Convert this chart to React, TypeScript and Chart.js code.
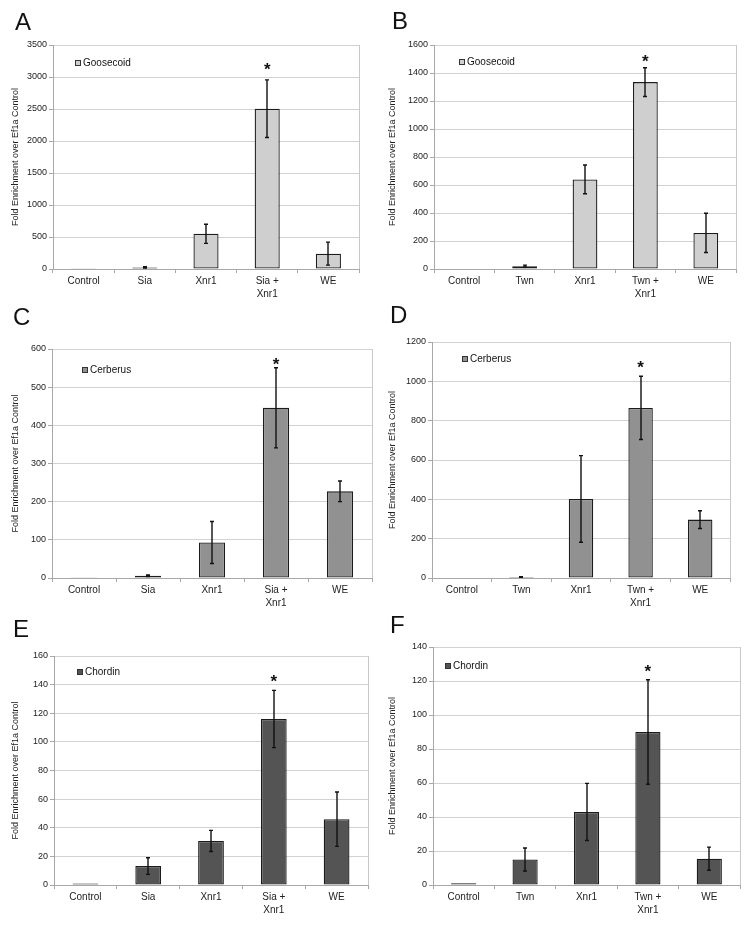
import React, { useEffect, useRef } from "react";
import { Chart, registerables } from "chart.js";

Chart.register(...registerables);

const FONT = '"Liberation Sans", Arial, Helvetica, sans-serif';

// ---- categories ----
const siaCategories: string[][] = [["Control"], ["Sia"], ["Xnr1"], ["Sia +", "Xnr1"], ["WE"]];
const twnCategories: string[][] = [["Control"], ["Twn"], ["Xnr1"], ["Twn +", "Xnr1"], ["WE"]];

// ---- series values (mean) and error (±) ----
const goosecoidSiaMeans = [5, 25, 550, 2505, 240];
const goosecoidSiaErrors = [0, 10, 150, 450, 180];
const goosecoidTwnMeans = [3, 20, 640, 1335, 258];
const goosecoidTwnErrors = [0, 8, 103, 103, 140];
const cerberusSiaMeans = [2, 6, 93, 446, 227];
const cerberusSiaErrors = [0, 2, 55, 105, 27];
const cerberusTwnMeans = [2, 5, 402, 865, 297];
const cerberusTwnErrors = [0, 1, 220, 161, 45];
const chordinSiaMeans = [1, 13.2, 30.8, 116, 46];
const chordinSiaErrors = [0, 5.8, 7.4, 20, 19];
const chordinTwnMeans = [1, 15, 43, 90, 15.5];
const chordinTwnErrors = [0, 6.8, 16.8, 30.7, 6.8];

// ---- significance markers (value where the asterisk sits) ----
const starValues = [3187, 1514, 571, 1093, 145, 128];
const starIndex = 3;

// ---- y-axis ranges ----
const yMaxes = [3500, 1600, 600, 1200, 160, 140];
const ySteps = [500, 200, 100, 200, 20, 20];

const panelLetters = ["A", "B", "C", "D", "E", "F"];
const geneNames = ["Goosecoid", "Goosecoid", "Cerberus", "Cerberus", "Chordin", "Chordin"];
const yTitle = "Fold Enrichment over Ef1a Control";

// ---- layout / styles (not data) ----
const barColors = ["#cfcfcf", "#cfcfcf", "#919191", "#919191", "#545454", "#545454"];
const panelBoxes = [
  { left: 0, top: 0, width: 377, height: 300 },
  { left: 377, top: 0, width: 377, height: 300 },
  { left: 0, top: 300, width: 377, height: 310 },
  { left: 377, top: 300, width: 377, height: 310 },
  { left: 0, top: 610, width: 377, height: 324 },
  { left: 377, top: 610, width: 377, height: 324 },
];
const plotAreas = [
  { l: 53, t: 45, r: 359, b: 269 },
  { l: 57, t: 45, r: 359, b: 269 },
  { l: 52, t: 49, r: 372, b: 278 },
  { l: 55, t: 42, r: 353, b: 278 },
  { l: 54, t: 46, r: 368, b: 275 },
  { l: 56, t: 37, r: 363, b: 275 },
];
const letterPos = [
  { x: 15, y: 30 },
  { x: 15, y: 29 },
  { x: 13, y: 25 },
  { x: 13, y: 23 },
  { x: 13, y: 27 },
  { x: 13, y: 23 },
];
const legendPos = [
  { x: 75, y: 63 },
  { x: 82, y: 62 },
  { x: 82, y: 70 },
  { x: 85, y: 59 },
  { x: 77, y: 62 },
  { x: 68, y: 56 },
];

const meansList = [goosecoidSiaMeans, goosecoidTwnMeans, cerberusSiaMeans, cerberusTwnMeans, chordinSiaMeans, chordinTwnMeans];
const errorsList = [goosecoidSiaErrors, goosecoidTwnErrors, cerberusSiaErrors, cerberusTwnErrors, chordinSiaErrors, chordinTwnErrors];
const categoriesList = [siaCategories, twnCategories, siaCategories, twnCategories, siaCategories, twnCategories];

function Panel({ idx }: { idx: number }) {
  const ref = useRef<HTMLCanvasElement>(null);
  useEffect(() => {
    if (!ref.current) return;
    const box = panelBoxes[idx];
    const area = plotAreas[idx];
    const means = meansList[idx];
    const errors = errorsList[idx];
    const color = barColors[idx];

    const extras = {
      id: "extras" + idx,
      afterDatasetsDraw(chart: any) {
        const ctx = chart.ctx;
        const y = chart.scales.y;
        const ca = chart.chartArea;
        const meta = chart.getDatasetMeta(0);
        ctx.save();
        // right frame line
        ctx.strokeStyle = "#c9c9c9";
        ctx.lineWidth = 1;
        ctx.beginPath();
        const rx = Math.round(ca.right) + 0.5;
        ctx.moveTo(rx, ca.top);
        ctx.lineTo(rx, ca.bottom);
        ctx.stroke();
        // error bars
        ctx.strokeStyle = "#111";
        ctx.lineWidth = 1.4;
        means.forEach((m, i) => {
          const e = errors[i];
          if (!e) return;
          const px = Math.round(meta.data[i].x);
          const top = y.getPixelForValue(m + e);
          const bot = y.getPixelForValue(Math.max(m - e, 0));
          ctx.beginPath();
          ctx.moveTo(px, top);
          ctx.lineTo(px, bot);
          ctx.moveTo(px - 2, top);
          ctx.lineTo(px + 2, top);
          ctx.moveTo(px - 2, bot);
          ctx.lineTo(px + 2, bot);
          ctx.stroke();
        });
        // asterisk
        const sx = meta.data[starIndex].x;
        const sy = y.getPixelForValue(starValues[idx]);
        ctx.fillStyle = "#111";
        ctx.font = `bold 17px ${FONT}`;
        ctx.textAlign = "center";
        ctx.textBaseline = "alphabetic";
        ctx.fillText("*", sx, sy + 10);
        ctx.restore();
      },
      afterDraw(chart: any) {
        const ctx = chart.ctx;
        ctx.save();
        // panel letter
        ctx.fillStyle = "#111";
        ctx.font = `24px ${FONT}`;
        ctx.textAlign = "left";
        ctx.textBaseline = "alphabetic";
        const lp = letterPos[idx];
        ctx.fillText(panelLetters[idx], lp.x, lp.y);
        // legend
        const g = legendPos[idx];
        ctx.fillStyle = color;
        ctx.fillRect(g.x, g.y - 3, 6, 6);
        ctx.strokeStyle = "#333";
        ctx.lineWidth = 1;
        ctx.strokeRect(g.x + 0.5, g.y - 2.5, 5, 5);
        ctx.fillStyle = "#111";
        ctx.font = `10px ${FONT}`;
        ctx.textBaseline = "middle";
        ctx.fillText(geneNames[idx], g.x + 8, g.y + 0.5);
        ctx.restore();
      },
    };

    const chart = new Chart(ref.current, {
      type: "bar",
      data: {
        labels: categoriesList[idx],
        datasets: [
          {
            label: geneNames[idx],
            data: means,
            backgroundColor: color,
            borderColor: "#1c1c1c",
            borderWidth: 1.3,
            borderSkipped: false,
            barPercentage: 0.41,
            categoryPercentage: 1,
          },
        ],
      },
      options: {
        responsive: false,
        animation: false,
        devicePixelRatio: 1,
        layout: {
          padding: { left: 0, top: area.t, right: box.width - area.r, bottom: 0 },
        },
        plugins: {
          legend: { display: false },
          tooltip: { enabled: false },
        },
        scales: {
          x: {
            afterFit: (s: any) => {
              s.height = box.height - area.b;
            },
            grid: {
              display: true,
              drawOnChartArea: false,
              drawTicks: true,
              tickLength: 4,
              offset: true,
              color: "#a8a8a8",
            },
            border: { display: true, color: "#a8a8a8", width: 1 },
            ticks: {
              color: "#222",
              font: { family: FONT, size: 10, lineHeight: 1.25 },
              padding: 2,
              maxRotation: 0,
              autoSkip: false,
            },
          },
          y: {
            min: 0,
            max: yMaxes[idx],
            afterFit: (s: any) => {
              s.width = area.l;
            },
            grid: {
              color: "#d2d2d2",
              tickColor: "#a8a8a8",
              drawTicks: true,
              tickLength: 4,
            },
            border: { display: true, color: "#a8a8a8", width: 1 },
            ticks: {
              stepSize: ySteps[idx],
              color: "#222",
              font: { family: FONT, size: 9 },
              padding: 2,
              callback: (v: any) => String(v),
            },
            title: {
              display: true,
              text: yTitle,
              color: "#222",
              font: { family: FONT, size: 9 },
              padding: { top: 10, bottom: 0 },
            },
          },
        },
      },
      plugins: [extras],
    } as any);
    return () => chart.destroy();
  }, [idx]);

  const box = panelBoxes[idx];
  return (
    <canvas
      ref={ref}
      width={box.width}
      height={box.height}
      style={{ position: "absolute", left: box.left, top: box.top, width: box.width, height: box.height }}
    />
  );
}

export default function App() {
  return (
    <div
      style={{
        position: "absolute",
        left: 0,
        top: 0,
        width: 754,
        height: 934,
        background: "#ffffff",
        overflow: "hidden",
      }}
    >
      {panelLetters.map((_, i) => (
        <Panel key={i} idx={i} />
      ))}
    </div>
  );
}
